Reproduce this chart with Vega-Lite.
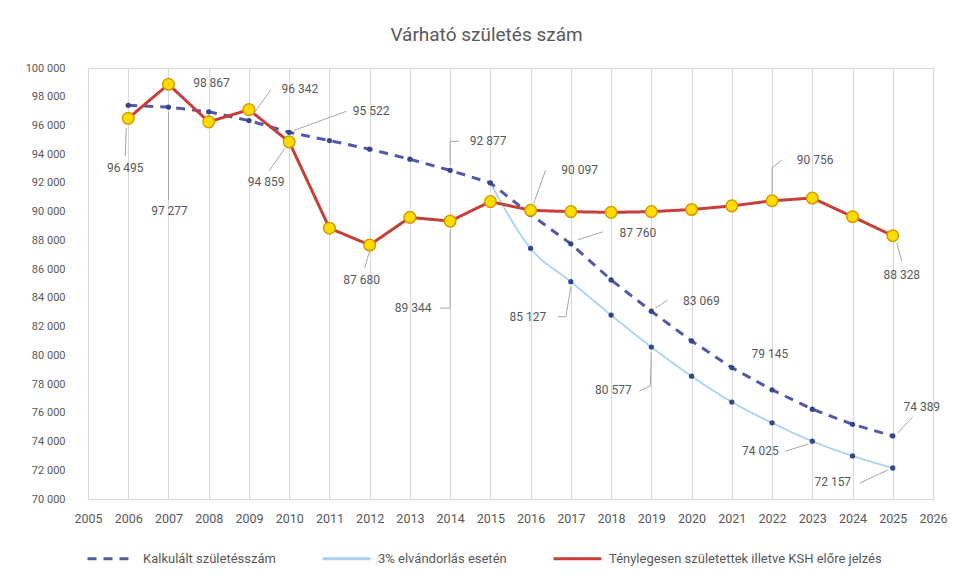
{
  "$schema": "https://vega.github.io/schema/vega-lite/v6.json",
  "width": 845,
  "height": 431,
  "autosize": {"type": "none"},
  "padding": {"left": 88, "top": 68, "right": 37, "bottom": 82},
  "background": "white",
  "title": {"text": "Várható születés szám", "anchor": "middle", "dx": -24, "offset": 17, "fontSize": 19, "font": "Roboto", "fontWeight": "normal", "color": "#595959"},
  "config": {
    "locale": {"number": {"decimal": ",", "thousands": " ", "grouping": [3], "currency": ["", " Ft"]}},
    "view": {"stroke": "#d9d9d9", "strokeWidth": 1},
    "font": "Roboto",
    "text": {"font": "Roboto", "fontSize": 12, "color": "#595959"}
  },
  "data": {"values": [
    {"year": 2006, "k": "K", "series": "Kalkulált születésszám", "value": 97400},
    {"year": 2007, "k": "K", "series": "Kalkulált születésszám", "value": 97277},
    {"year": 2008, "k": "K", "series": "Kalkulált születésszám", "value": 96950},
    {"year": 2009, "k": "K", "series": "Kalkulált születésszám", "value": 96342},
    {"year": 2010, "k": "K", "series": "Kalkulált születésszám", "value": 95522},
    {"year": 2011, "k": "K", "series": "Kalkulált születésszám", "value": 94950},
    {"year": 2012, "k": "K", "series": "Kalkulált születésszám", "value": 94350},
    {"year": 2013, "k": "K", "series": "Kalkulált születésszám", "value": 93650},
    {"year": 2014, "k": "K", "series": "Kalkulált születésszám", "value": 92877},
    {"year": 2015, "k": "K", "series": "Kalkulált születésszám", "value": 92000},
    {"year": 2016, "k": "K", "series": "Kalkulált születésszám", "value": 89800},
    {"year": 2017, "k": "K", "series": "Kalkulált születésszám", "value": 87760},
    {"year": 2018, "k": "K", "series": "Kalkulált születésszám", "value": 85250},
    {"year": 2019, "k": "K", "series": "Kalkulált születésszám", "value": 83069},
    {"year": 2020, "k": "K", "series": "Kalkulált születésszám", "value": 81000},
    {"year": 2021, "k": "K", "series": "Kalkulált születésszám", "value": 79145},
    {"year": 2022, "k": "K", "series": "Kalkulált születésszám", "value": 77600},
    {"year": 2023, "k": "K", "series": "Kalkulált születésszám", "value": 76250},
    {"year": 2024, "k": "K", "series": "Kalkulált születésszám", "value": 75200},
    {"year": 2025, "k": "K", "series": "Kalkulált születésszám", "value": 74389},
    {"year": 2015, "k": "B", "series": "3% elvándorlás esetén", "value": 92000},
    {"year": 2016, "k": "B", "series": "3% elvándorlás esetén", "value": 87450},
    {"year": 2017, "k": "B", "series": "3% elvándorlás esetén", "value": 85127},
    {"year": 2018, "k": "B", "series": "3% elvándorlás esetén", "value": 82800},
    {"year": 2019, "k": "B", "series": "3% elvándorlás esetén", "value": 80577},
    {"year": 2020, "k": "B", "series": "3% elvándorlás esetén", "value": 78550},
    {"year": 2021, "k": "B", "series": "3% elvándorlás esetén", "value": 76750},
    {"year": 2022, "k": "B", "series": "3% elvándorlás esetén", "value": 75300},
    {"year": 2023, "k": "B", "series": "3% elvándorlás esetén", "value": 74025},
    {"year": 2024, "k": "B", "series": "3% elvándorlás esetén", "value": 73000},
    {"year": 2025, "k": "B", "series": "3% elvándorlás esetén", "value": 72157},
    {"year": 2006, "k": "R", "series": "Ténylegesen születettek illetve KSH előre jelzés", "value": 96495},
    {"year": 2007, "k": "R", "series": "Ténylegesen születettek illetve KSH előre jelzés", "value": 98867},
    {"year": 2008, "k": "R", "series": "Ténylegesen születettek illetve KSH előre jelzés", "value": 96250},
    {"year": 2009, "k": "R", "series": "Ténylegesen születettek illetve KSH előre jelzés", "value": 97100},
    {"year": 2010, "k": "R", "series": "Ténylegesen születettek illetve KSH előre jelzés", "value": 94859},
    {"year": 2011, "k": "R", "series": "Ténylegesen születettek illetve KSH előre jelzés", "value": 88850},
    {"year": 2012, "k": "R", "series": "Ténylegesen születettek illetve KSH előre jelzés", "value": 87680},
    {"year": 2013, "k": "R", "series": "Ténylegesen születettek illetve KSH előre jelzés", "value": 89600},
    {"year": 2014, "k": "R", "series": "Ténylegesen születettek illetve KSH előre jelzés", "value": 89344},
    {"year": 2015, "k": "R", "series": "Ténylegesen születettek illetve KSH előre jelzés", "value": 90700},
    {"year": 2016, "k": "R", "series": "Ténylegesen születettek illetve KSH előre jelzés", "value": 90097},
    {"year": 2017, "k": "R", "series": "Ténylegesen születettek illetve KSH előre jelzés", "value": 90000},
    {"year": 2018, "k": "R", "series": "Ténylegesen születettek illetve KSH előre jelzés", "value": 89950},
    {"year": 2019, "k": "R", "series": "Ténylegesen születettek illetve KSH előre jelzés", "value": 90000},
    {"year": 2020, "k": "R", "series": "Ténylegesen születettek illetve KSH előre jelzés", "value": 90150},
    {"year": 2021, "k": "R", "series": "Ténylegesen születettek illetve KSH előre jelzés", "value": 90400},
    {"year": 2022, "k": "R", "series": "Ténylegesen születettek illetve KSH előre jelzés", "value": 90756},
    {"year": 2023, "k": "R", "series": "Ténylegesen születettek illetve KSH előre jelzés", "value": 90950},
    {"year": 2024, "k": "R", "series": "Ténylegesen születettek illetve KSH előre jelzés", "value": 89650},
    {"year": 2025, "k": "R", "series": "Ténylegesen születettek illetve KSH előre jelzés", "value": 88328}
  ]},
  "encoding": {
    "x": {"field": "year", "type": "quantitative",
      "scale": {"domain": [2005, 2026], "nice": false, "zero": false},
      "axis": {"title": null, "values": [2005,2006,2007,2008,2009,2010,2011,2012,2013,2014,2015,2016,2017,2018,2019,2020,2021,2022,2023,2024,2025,2026],
        "format": "d", "grid": true, "gridColor": "#d9d9d9", "gridWidth": 1, "domain": false, "ticks": false,
        "labelPadding": 13, "labelFontSize": 12.5, "labelColor": "#595959", "labelFont": "Roboto", "labelFlush": false}},
    "y": {"field": "value", "type": "quantitative",
      "scale": {"domain": [70000, 100000], "nice": false, "zero": false},
      "axis": {"title": null, "values": [70000,72000,74000,76000,78000,80000,82000,84000,86000,88000,90000,92000,94000,96000,98000,100000],
        "format": ",d", "grid": false, "domain": false, "ticks": false,
        "labelPadding": 23, "labelFontSize": 11, "labelColor": "#595959", "labelFont": "Roboto"}}
  },
  "layer": [
    {"transform": [{"filter": "datum.k=='B'"}],
     "mark": {"type": "line", "interpolate": "monotone", "strokeWidth": 1.8},
     "encoding": {
       "color": {"field": "series", "type": "nominal",
         "scale": {"domain": ["Kalkulált születésszám", "3% elvándorlás esetén", "Ténylegesen születettek illetve KSH előre jelzés"], "range": ["#5558a6", "#a8d2f2", "#c63f3a"]},
         "legend": {"title": null, "orient": "none", "legendX": -2, "legendY": 465, "direction": "horizontal", "symbolType": "stroke", "symbolSize": 2300, "symbolStrokeWidth": 3, "columnPadding": 40, "labelOffset": 6, "labelFontSize": 13, "labelColor": "#595959", "labelFont": "Roboto", "labelLimit": 400}},
       "strokeDash": {"field": "series", "type": "nominal",
         "scale": {"domain": ["Kalkulált születésszám", "3% elvándorlás esetén", "Ténylegesen születettek illetve KSH előre jelzés"], "range": [[9, 7], [1, 0], [1, 0]]}}
     }},
    {"transform": [{"filter": "datum.k!='B'"}],
     "mark": {"type": "line", "strokeWidth": 3},
     "encoding": {
       "color": {"field": "series", "type": "nominal"},
       "strokeDash": {"field": "series", "type": "nominal"}
     }},
    {"transform": [{"filter": "datum.k=='K' || (datum.k=='B' && datum.year>2015)"}],
     "mark": {"type": "point", "filled": true, "size": 28, "color": "#34478a", "opacity": 1}},
    {"transform": [{"filter": "datum.k=='R'"}],
     "mark": {"type": "point", "filled": true, "size": 135, "fill": "#ffdc00", "stroke": "#d49a00", "strokeWidth": 1.5, "opacity": 1}},

    {"transform": [{"filter": "datum.k=='R'&&datum.year==2006"}], "mark": {"type": "rule", "color": "#a6a6a6", "xOffset": -2, "yOffset": 10, "x2Offset": -3, "y2Offset": 38}, "encoding": {"x2": {"field": "year"}, "y2": {"field": "value"}}},
    {"transform": [{"filter": "datum.k=='K'&&datum.year==2007"}], "mark": {"type": "rule", "color": "#a6a6a6", "xOffset": 0, "yOffset": 5, "x2Offset": 0, "y2Offset": 93}, "encoding": {"x2": {"field": "year"}, "y2": {"field": "value"}}},
    {"transform": [{"filter": "datum.k=='K'&&datum.year==2009"}], "mark": {"type": "rule", "color": "#a6a6a6", "xOffset": 4, "yOffset": -6, "x2Offset": 22, "y2Offset": -31}, "encoding": {"x2": {"field": "year"}, "y2": {"field": "value"}}},
    {"transform": [{"filter": "datum.k=='K'&&datum.year==2010"}], "mark": {"type": "rule", "color": "#a6a6a6", "xOffset": 5, "yOffset": -2, "x2Offset": 57, "y2Offset": -21}, "encoding": {"x2": {"field": "year"}, "y2": {"field": "value"}}},
    {"transform": [{"filter": "datum.k=='R'&&datum.year==2010"}], "mark": {"type": "rule", "color": "#a6a6a6", "xOffset": -4, "yOffset": 6, "x2Offset": -20, "y2Offset": 29}, "encoding": {"x2": {"field": "year"}, "y2": {"field": "value"}}},
    {"transform": [{"filter": "datum.k=='R'&&datum.year==2012"}], "mark": {"type": "rule", "color": "#a6a6a6", "xOffset": 0, "yOffset": 6, "x2Offset": -5, "y2Offset": 23}, "encoding": {"x2": {"field": "year"}, "y2": {"field": "value"}}},
    {"transform": [{"filter": "datum.k=='R'&&datum.year==2014"}], "mark": {"type": "rule", "color": "#a6a6a6", "xOffset": 0, "yOffset": 8, "x2Offset": 0, "y2Offset": 87}, "encoding": {"x2": {"field": "year"}, "y2": {"field": "value"}}},
    {"transform": [{"filter": "datum.k=='R'&&datum.year==2014"}], "mark": {"type": "rule", "color": "#a6a6a6", "xOffset": -10, "yOffset": 87, "x2Offset": 0, "y2Offset": 87}, "encoding": {"x2": {"field": "year"}, "y2": {"field": "value"}}},
    {"transform": [{"filter": "datum.k=='K'&&datum.year==2014"}], "mark": {"type": "rule", "color": "#a6a6a6", "xOffset": 0, "yOffset": -5, "x2Offset": 0, "y2Offset": -29}, "encoding": {"x2": {"field": "year"}, "y2": {"field": "value"}}},
    {"transform": [{"filter": "datum.k=='K'&&datum.year==2014"}], "mark": {"type": "rule", "color": "#a6a6a6", "xOffset": 0, "yOffset": -29, "x2Offset": 9, "y2Offset": -29}, "encoding": {"x2": {"field": "year"}, "y2": {"field": "value"}}},
    {"transform": [{"filter": "datum.k=='R'&&datum.year==2016"}], "mark": {"type": "rule", "color": "#a6a6a6", "xOffset": 3, "yOffset": -7, "x2Offset": 15, "y2Offset": -40}, "encoding": {"x2": {"field": "year"}, "y2": {"field": "value"}}},
    {"transform": [{"filter": "datum.k=='K'&&datum.year==2017"}], "mark": {"type": "rule", "color": "#a6a6a6", "xOffset": 7, "yOffset": -4, "x2Offset": 32, "y2Offset": -12}, "encoding": {"x2": {"field": "year"}, "y2": {"field": "value"}}},
    {"transform": [{"filter": "datum.k=='B'&&datum.year==2017"}], "mark": {"type": "rule", "color": "#a6a6a6", "xOffset": -13, "yOffset": 35, "x2Offset": -5, "y2Offset": 35}, "encoding": {"x2": {"field": "year"}, "y2": {"field": "value"}}},
    {"transform": [{"filter": "datum.k=='B'&&datum.year==2017"}], "mark": {"type": "rule", "color": "#a6a6a6", "xOffset": -5, "yOffset": 35, "x2Offset": 0, "y2Offset": 5}, "encoding": {"x2": {"field": "year"}, "y2": {"field": "value"}}},
    {"transform": [{"filter": "datum.k=='K'&&datum.year==2019"}], "mark": {"type": "rule", "color": "#a6a6a6", "xOffset": 4, "yOffset": -3, "x2Offset": 16, "y2Offset": -11}, "encoding": {"x2": {"field": "year"}, "y2": {"field": "value"}}},
    {"transform": [{"filter": "datum.k=='B'&&datum.year==2019"}], "mark": {"type": "rule", "color": "#a6a6a6", "xOffset": 0, "yOffset": 5, "x2Offset": -1, "y2Offset": 39}, "encoding": {"x2": {"field": "year"}, "y2": {"field": "value"}}},
    {"transform": [{"filter": "datum.k=='B'&&datum.year==2019"}], "mark": {"type": "rule", "color": "#a6a6a6", "xOffset": -1, "yOffset": 39, "x2Offset": -12, "y2Offset": 44}, "encoding": {"x2": {"field": "year"}, "y2": {"field": "value"}}},
    {"transform": [{"filter": "datum.k=='R'&&datum.year==2022"}], "mark": {"type": "rule", "color": "#a6a6a6", "xOffset": 0, "yOffset": -7, "x2Offset": 0, "y2Offset": -33}, "encoding": {"x2": {"field": "year"}, "y2": {"field": "value"}}},
    {"transform": [{"filter": "datum.k=='R'&&datum.year==2022"}], "mark": {"type": "rule", "color": "#a6a6a6", "xOffset": 0, "yOffset": -33, "x2Offset": 10, "y2Offset": -41}, "encoding": {"x2": {"field": "year"}, "y2": {"field": "value"}}},
    {"transform": [{"filter": "datum.k=='B'&&datum.year==2023"}], "mark": {"type": "rule", "color": "#a6a6a6", "xOffset": -27, "yOffset": 10, "x2Offset": -4, "y2Offset": 3}, "encoding": {"x2": {"field": "year"}, "y2": {"field": "value"}}},
    {"transform": [{"filter": "datum.k=='R'&&datum.year==2025"}], "mark": {"type": "rule", "color": "#a6a6a6", "xOffset": 4, "yOffset": 7, "x2Offset": 9, "y2Offset": 26}, "encoding": {"x2": {"field": "year"}, "y2": {"field": "value"}}},
    {"transform": [{"filter": "datum.k=='K'&&datum.year==2025"}], "mark": {"type": "rule", "color": "#a6a6a6", "xOffset": 5, "yOffset": -3, "x2Offset": 20, "y2Offset": -19}, "encoding": {"x2": {"field": "year"}, "y2": {"field": "value"}}},
    {"transform": [{"filter": "datum.k=='B'&&datum.year==2025"}], "mark": {"type": "rule", "color": "#a6a6a6", "xOffset": -33, "yOffset": 15, "x2Offset": -5, "y2Offset": 2}, "encoding": {"x2": {"field": "year"}, "y2": {"field": "value"}}},

    {"transform": [{"filter": "datum.k=='R'&&datum.year==2006"}], "mark": {"type": "text", "dx": -3, "dy": 50}, "encoding": {"text": {"field": "value", "format": ",d"}}},
    {"transform": [{"filter": "datum.k=='K'&&datum.year==2007"}], "mark": {"type": "text", "dx": 1, "dy": 104}, "encoding": {"text": {"field": "value", "format": ",d"}}},
    {"transform": [{"filter": "datum.k=='R'&&datum.year==2007"}], "mark": {"type": "text", "dx": 43, "dy": -1}, "encoding": {"text": {"field": "value", "format": ",d"}}},
    {"transform": [{"filter": "datum.k=='K'&&datum.year==2009"}], "mark": {"type": "text", "dx": 51, "dy": -32}, "encoding": {"text": {"field": "value", "format": ",d"}}},
    {"transform": [{"filter": "datum.k=='K'&&datum.year==2010"}], "mark": {"type": "text", "dx": 82, "dy": -21}, "encoding": {"text": {"field": "value", "format": ",d"}}},
    {"transform": [{"filter": "datum.k=='R'&&datum.year==2010"}], "mark": {"type": "text", "dx": -23, "dy": 40}, "encoding": {"text": {"field": "value", "format": ",d"}}},
    {"transform": [{"filter": "datum.k=='R'&&datum.year==2012"}], "mark": {"type": "text", "dx": -8, "dy": 35}, "encoding": {"text": {"field": "value", "format": ",d"}}},
    {"transform": [{"filter": "datum.k=='R'&&datum.year==2014"}], "mark": {"type": "text", "dx": -37, "dy": 87}, "encoding": {"text": {"field": "value", "format": ",d"}}},
    {"transform": [{"filter": "datum.k=='K'&&datum.year==2014"}], "mark": {"type": "text", "dx": 38, "dy": -29}, "encoding": {"text": {"field": "value", "format": ",d"}}},
    {"transform": [{"filter": "datum.k=='R'&&datum.year==2016"}], "mark": {"type": "text", "dx": 49, "dy": -40}, "encoding": {"text": {"field": "value", "format": ",d"}}},
    {"transform": [{"filter": "datum.k=='K'&&datum.year==2017"}], "mark": {"type": "text", "dx": 67, "dy": -11}, "encoding": {"text": {"field": "value", "format": ",d"}}},
    {"transform": [{"filter": "datum.k=='B'&&datum.year==2017"}], "mark": {"type": "text", "dx": -43, "dy": 35}, "encoding": {"text": {"field": "value", "format": ",d"}}},
    {"transform": [{"filter": "datum.k=='K'&&datum.year==2019"}], "mark": {"type": "text", "dx": 50, "dy": -10}, "encoding": {"text": {"field": "value", "format": ",d"}}},
    {"transform": [{"filter": "datum.k=='B'&&datum.year==2019"}], "mark": {"type": "text", "dx": -38, "dy": 43}, "encoding": {"text": {"field": "value", "format": ",d"}}},
    {"transform": [{"filter": "datum.k=='K'&&datum.year==2021"}], "mark": {"type": "text", "dx": 38, "dy": -14}, "encoding": {"text": {"field": "value", "format": ",d"}}},
    {"transform": [{"filter": "datum.k=='R'&&datum.year==2022"}], "mark": {"type": "text", "dx": 43, "dy": -41}, "encoding": {"text": {"field": "value", "format": ",d"}}},
    {"transform": [{"filter": "datum.k=='B'&&datum.year==2023"}], "mark": {"type": "text", "dx": -52, "dy": 10}, "encoding": {"text": {"field": "value", "format": ",d"}}},
    {"transform": [{"filter": "datum.k=='R'&&datum.year==2025"}], "mark": {"type": "text", "dx": 9, "dy": 39}, "encoding": {"text": {"field": "value", "format": ",d"}}},
    {"transform": [{"filter": "datum.k=='K'&&datum.year==2025"}], "mark": {"type": "text", "dx": 29, "dy": -29}, "encoding": {"text": {"field": "value", "format": ",d"}}},
    {"transform": [{"filter": "datum.k=='B'&&datum.year==2025"}], "mark": {"type": "text", "dx": -60, "dy": 14}, "encoding": {"text": {"field": "value", "format": ",d"}}}
  ]
}
